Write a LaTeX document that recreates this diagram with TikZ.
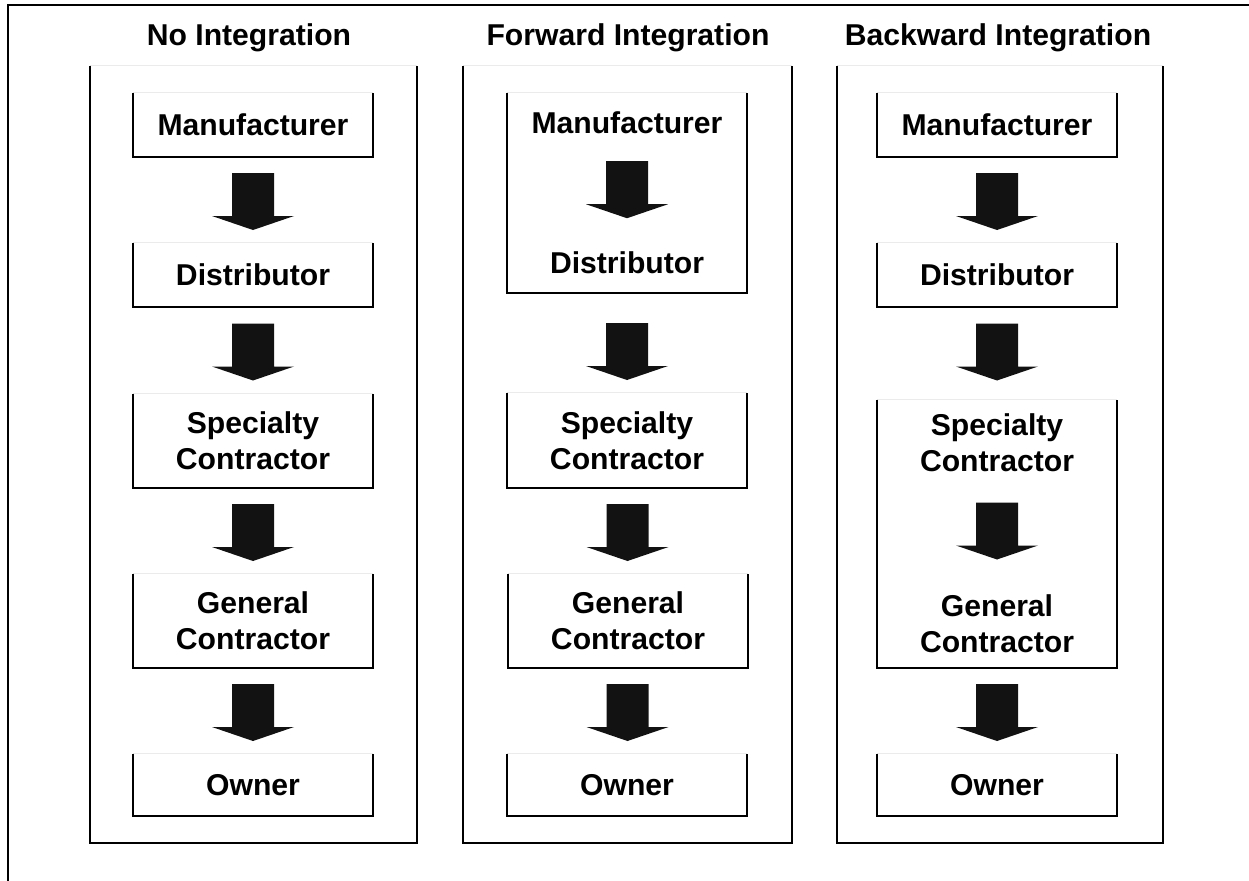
\documentclass[tikz,border=0pt]{standalone}
\usepackage{fontspec}
\setmainfont{Liberation Sans}
\usetikzlibrary{calc}
\newcommand\blockarrow[3][0]{%
  \path ($(#2.south)!0.5!(#3.north)$) coordinate (ac);
  \fill[arrowfill] ($(ac)+(-21,-27+#1)$) -- ++(42,0) -- ++(0,43) -- ++(20,0)
     -- ++(-41,14) -- ++(-41,-14) -- ++(20,0) -- cycle;
}
\begin{document}
\begin{tikzpicture}[x=0.75pt,y=-0.75pt,
  lbl/.style={font=\bfseries\fontsize{22.6}{27}\selectfont, align=center, inner sep=0pt},
  box/.style={lbl, minimum width=180pt, draw=none},
  panel/.style={minimum width=245.25pt, minimum height=582.75pt, inner sep=0pt, draw=none},
  sideline/.style={line width=1.3pt, black},
  topline/.style={line width=1pt, black!8},
  panelline/.style={line width=1.5pt, black},
  frameline/.style={line width=1.9pt, black},
  arrowfill/.style={fill=black!93, draw=none},
]
\useasboundingbox (0,0) rectangle (1249,881);
% outer frame (only left and top edges visible)
\draw[frameline] (8,881) -- (8,5) -- (1249,5);

% titles
\node[lbl, anchor=base] (t1) at (249,46) {No Integration};
\node[lbl, anchor=base] (t2) at (628,46) {Forward Integration};
\node[lbl, anchor=base] (t3) at (998,46) {Backward Integration};

% panels
\node[panel, minimum width=245.25pt] (p1) at (253.5,454.5) {};
\node[panel, minimum width=246.75pt] (p2) at (627.5,454.5) {};
\node[panel, minimum width=244.5pt] (p3) at (1000,454.5) {};
\foreach \n in {p1,p2,p3} {
  \draw[topline] (\n.north west) -- (\n.north east);
  \draw[panelline] (\n.north west) -- (\n.south west) -- (\n.south east) -- (\n.north east);
}

% panel 1: no integration
\node[box, minimum height=48pt] (m1) at (253,125) {Manufacturer};
\node[box, minimum height=48pt] (d1) at (253,275) {Distributor};
\node[box, minimum height=70.5pt] (s1) at (253,441) {Specialty\\Contractor};
\node[box, minimum height=70.5pt] (g1) at (253,621) {General\\Contractor};
\node[box, minimum height=46.5pt] (o1) at (253,785) {Owner};

% panel 2: forward integration
\node[box, minimum height=150pt] (md2) at (627,193) {};
\node[lbl, anchor=base] (m2) at (627,133) {Manufacturer};
\node[lbl, anchor=base] (d2) at (627,273) {Distributor};
\node[box, minimum height=71.25pt] (s2) at (627,440.5) {Specialty\\Contractor};
\node[box, minimum height=70.5pt] (g2) at (628,621) {General\\Contractor};
\node[box, minimum height=46.5pt] (o2) at (627,785) {Owner};

% panel 3: backward integration
\node[box, minimum height=48pt] (m3) at (997,125) {Manufacturer};
\node[box, minimum height=48pt] (d3) at (997,275) {Distributor};
\node[box, minimum height=201pt] (sg3) at (997,534) {};
\node[lbl] (s3) at (997,443) {Specialty\\Contractor};
\node[lbl] (g3) at (997,624) {General\\Contractor};
\node[box, minimum height=46.5pt] (o3) at (997,785) {Owner};

\foreach \n in {m1,d1,s1,g1,o1,md2,s2,g2,o2,m3,d3,sg3,o3} {
  \draw[topline] (\n.north west) -- (\n.north east);
  \draw[sideline] (\n.north west) -- (\n.south west) -- (\n.south east) -- (\n.north east);
}

% arrows
\blockarrow{m1}{d1}
\blockarrow{d1}{s1}
\blockarrow{s1}{g1}
\blockarrow{g1}{o1}
\blockarrow[-4]{m2}{d2}
\blockarrow[7]{md2}{s2}
\blockarrow{s2}{g2}
\blockarrow{g2}{o2}
\blockarrow{m3}{d3}
\blockarrow[-3]{d3}{sg3}
\blockarrow[-4]{s3}{g3}
\blockarrow{sg3}{o3}
\end{tikzpicture}
\end{document}
